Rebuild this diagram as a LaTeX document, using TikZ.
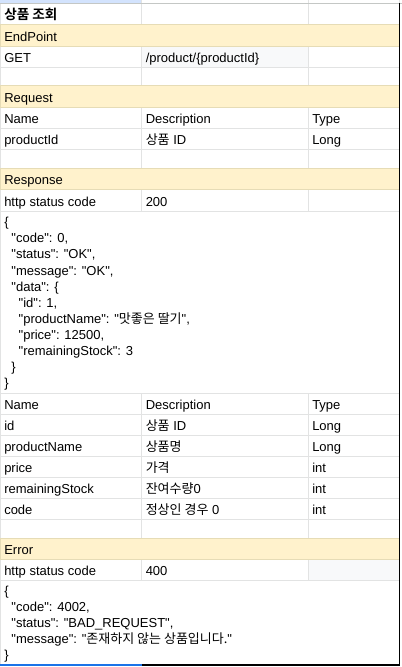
\documentclass[tikz,border=0pt]{standalone}
\usepackage{fontspec}
\setmainfont{Liberation Sans}[Ligatures=TeXReset]
\newfontfamily\kr{Noto Sans CJK KR}[BoldFont={Noto Sans CJK KR Bold}]
\definecolor{gridgray}{HTML}{E2E3E3}
\definecolor{headgray}{HTML}{C4C7C5}
\definecolor{bandfill}{HTML}{FFF2CC}
\definecolor{bandedge}{HTML}{E6DCB6}
\definecolor{cellgray}{HTML}{F8F9FA}
\definecolor{selblue}{HTML}{D3E3FD}
\definecolor{selline}{HTML}{1A73E8}
\tikzset{
  gridline/.style={draw=gridgray, line width=0.75pt},
  band/.style={fill=bandfill, draw=bandedge, line width=0.75pt},
  cell/.style={anchor=base west, inner sep=0pt, font=\fontsize{9.75pt}{12pt}\selectfont}
}

\begin{document}
\begin{tikzpicture}[x=0.75pt, y=-0.75pt]
    \useasboundingbox (0,0) rectangle (402,667);
    \fill[white] (0,0) rectangle (402,667);
    % column header strip
    \fill[selblue] (0,0) rectangle (141.7,3.5);
    \fill[cellgray] (141.7,46.7) rectangle (308.3,67.3);
    \fill[cellgray] (308.3,559.3) rectangle (399.3,580);
    % grid
    \draw[gridline] (0.5,3.5) -- (0.5,665);
    \foreach \y in {25,46.7,67.3,86,107.3,128.3,149.3,168.3,189.3,211,393.3,414.3,435.7,456.7,477.3,498.3,519.3,538.3,559.3,580}
        \draw[gridline] (0.5,\y) -- (399.3,\y);
    \foreach \a/\b in {0/25,46.7/86,107.3/168.3,189.3/211,393.3/538.3,559.3/580} {
        \draw[gridline] (141.7,\a) -- (141.7,\b);
        \draw[gridline] (308.3,\a) -- (308.3,\b);
    }
    \draw[gridline] (399.3,0) -- (399.3,3.5);
    \draw[headgray, line width=0.75pt] (0,3.5) -- (402,3.5);
    % section bands
    \foreach \a/\b in {25/46.7,86/107.3,168.3/189.3,538.3/559.3}
        \draw[band] (0.5,\a) rectangle (399.3,\b);
    % outer border
    \draw[black, line width=0.9pt] (399.3,3.5) -- (399.3,665) -- (141.7,665);
    \draw[selline, line width=0.9pt] (0,665) -- (141.7,665);

    \node[cell, font=\fontsize{10.2pt}{12pt}\selectfont\kr\bfseries] (title) at (4,20) {상품 조회};
    \node[cell] (endpoint) at (4,41.7) {EndPoint};
    \node[cell] (method) at (4,62.3) {GET};
    \node[cell] (path) at (145.5,62.3) {/product/\{productId\}};

    \node[cell] (request) at (4,102.3) {Request};
    \node[cell] (reqname) at (4,123.3) {Name};
    \node[cell] (reqdesc) at (145.5,123.3) {Description};
    \node[cell] (reqtype) at (312,123.3) {Type};
    \node[cell] (pidname) at (4,144.3) {productId};
    \node[cell] (piddesc) at (145.5,144.3) {{\kr 상품} ID};
    \node[cell] (pidtype) at (312,144.3) {Long};

    \node[cell] (response) at (4,184.3) {Response};
    \node[cell] (okstatus) at (4,206) {http status code};
    \node[cell] (okcode) at (145.5,206) {200};

    \node[cell] (ok0) at (4,226.7) {\{};
    \node[cell] (ok1) at (11.2,242.8) {"code": 0,};
    \node[cell] (ok2) at (11.2,258.9) {"status": "OK",};
    \node[cell] (ok3) at (11.2,275) {"message": "OK",};
    \node[cell] (ok4) at (11.2,291.1) {"data": \{};
    \node[cell] (ok5) at (18.4,307.2) {"id": 1,};
    \node[cell] (ok6) at (18.4,323.3) {"productName": "{\kr 맛좋은 딸기}",};
    \node[cell] (ok7) at (18.4,339.4) {"price": 12500,};
    \node[cell] (ok8) at (18.4,355.5) {"remainingStock": 3};
    \node[cell] (ok9) at (11.2,371.6) {\}};
    \node[cell] (ok10) at (4,387.7) {\}};

    \node[cell] (resname) at (4,409.3) {Name};
    \node[cell] (resdesc) at (145.5,409.3) {Description};
    \node[cell] (restype) at (312,409.3) {Type};
    \node[cell] (idname) at (4,430.7) {id};
    \node[cell] (iddesc) at (145.5,430.7) {{\kr 상품} ID};
    \node[cell] (idtype) at (312,430.7) {Long};
    \node[cell] (pnname) at (4,451.7) {productName};
    \node[cell] (pndesc) at (145.5,451.7) {\kr 상품명};
    \node[cell] (pntype) at (312,451.7) {Long};
    \node[cell] (prname) at (4,472.3) {price};
    \node[cell] (prdesc) at (145.5,472.3) {\kr 가격};
    \node[cell] (prtype) at (312,472.3) {int};
    \node[cell] (rsname) at (4,493.3) {remainingStock};
    \node[cell] (rsdesc) at (145.5,493.3) {{\kr 잔여수량}0};
    \node[cell] (rstype) at (312,493.3) {int};
    \node[cell] (cdname) at (4,514.3) {code};
    \node[cell] (cddesc) at (145.5,514.3) {{\kr 정상인 경우} 0};
    \node[cell] (cdtype) at (312,514.3) {int};

    \node[cell] (error) at (4,554.3) {Error};
    \node[cell] (errstatus) at (4,575) {http status code};
    \node[cell] (errcode) at (145.5,575) {400};

    \node[cell] (err0) at (4,595.5) {\{};
    \node[cell] (err1) at (11.2,611.6) {"code": 4002,};
    \node[cell] (err2) at (11.2,627.7) {"status": "BAD\_REQUEST",};
    \node[cell] (err3) at (11.2,643.8) {"message": "{\kr 존재하지 않는 상품입니다.}"};
    \node[cell] (err4) at (4,659.9) {\}};
\end{tikzpicture}
\end{document}
